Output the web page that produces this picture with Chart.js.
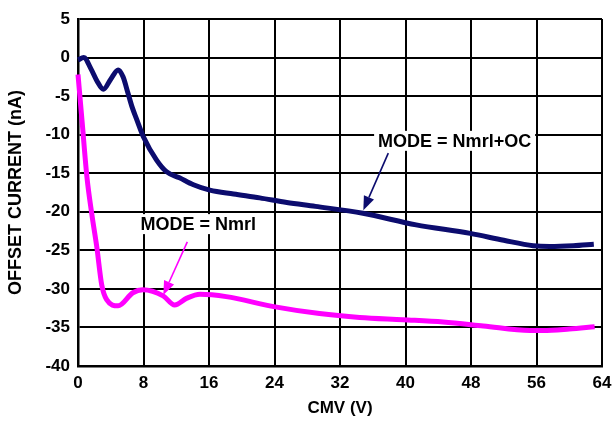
<!DOCTYPE html>
<html>
<head>
<meta charset="utf-8">
<script src="https://cdn.jsdelivr.net/npm/chart.js@4.4.1/dist/chart.umd.min.js"></script>
<style>
  body { margin: 0; background: #fff; }
  #wrap { width: 613px; height: 424px; }
</style>
</head>
<body>
<div id="wrap"><canvas id="myChart" width="613" height="424"></canvas></div>
<script>
"use strict";

// CMV (V) / offset current (nA)
const ocVolts = [0, 0.7, 1.6, 2.3, 3.1, 4.0, 4.9, 5.5, 6.1, 6.6, 7.2, 8.0, 9.6, 10.8, 12.4, 14.1, 16.1, 19, 22.2, 25.5, 29, 34.8, 41.3, 47.9, 52, 55.6, 57.6, 60.5, 63];
const ocCurrent = [-0.3, 0, -1.5, -3.0, -4.1, -2.8, -1.6, -2.5, -4.6, -6.4, -8.1, -10.3, -13.3, -14.8, -15.6, -16.5, -17.2, -17.7, -18.2, -18.8, -19.3, -20.2, -21.7, -22.8, -23.7, -24.4, -24.5, -24.4, -24.2];

const nmVolts = [0, 0.5, 1.1, 1.7, 2.3, 2.9, 3.5, 4.9, 6.7, 7.9, 10.4, 11.8, 13.3, 14.9, 18.1, 23.9, 29.5, 34.4, 39.7, 44.6, 49.5, 55.2, 56.8, 60, 63.1];
const nmCurrent = [-2.2, -8.3, -15.6, -20.4, -24.6, -29.5, -31.4, -32.2, -30.5, -30.1, -30.9, -32.1, -31.2, -30.7, -31.0, -32.3, -33.2, -33.7, -34.0, -34.3, -34.8, -35.4, -35.4, -35.2, -34.9];

const xTicks = [0, 8, 16, 24, 32, 40, 48, 56, 64];
const yTicks = [5, 0, -5, -10, -15, -20, -25, -30, -35, -40];

const NAVY = "#0c0c6e";
const MAGENTA = "#ff00ff";

// labels with arrows, in data units
const notes = [
  { text: "MODE = Nmrl+OC", color: NAVY, at: [46.0, -10.8], from: [37.9, -12.4], to: [34.85, -19.8] },
  { text: "MODE = Nmrl", color: MAGENTA, at: [14.7, -21.6], from: [13.35, -23.9], to: [10.42, -30.8] }
];

function toPoints(xs, ys) {
  return xs.map((x, i) => ({ x: x, y: ys[i] }));
}

const font = { family: "'Liberation Sans', Arial, sans-serif", size: 17, weight: "bold" };

const notePlugin = {
  id: "notes",
  afterDatasetsDraw(chart) {
    const ctx = chart.ctx;
    const xs = chart.scales.x;
    const ys = chart.scales.y;
    ctx.save();
    notes.forEach((n) => {
      // arrow
      const x1 = xs.getPixelForValue(n.from[0]);
      const y1 = ys.getPixelForValue(n.from[1]);
      const x2 = xs.getPixelForValue(n.to[0]);
      const y2 = ys.getPixelForValue(n.to[1]);
      const ang = Math.atan2(y2 - y1, x2 - x1);
      const len = 14, half = 5.5;
      const bx = x2 - len * Math.cos(ang);
      const by = y2 - len * Math.sin(ang);
      ctx.strokeStyle = n.color;
      ctx.fillStyle = n.color;
      ctx.lineWidth = 1.6;
      ctx.beginPath();
      ctx.moveTo(x1, y1);
      ctx.lineTo(bx, by);
      ctx.stroke();
      ctx.beginPath();
      ctx.moveTo(x2, y2);
      ctx.lineTo(bx + half * Math.sin(ang), by - half * Math.cos(ang));
      ctx.lineTo(bx - half * Math.sin(ang), by + half * Math.cos(ang));
      ctx.closePath();
      ctx.fill();

      // text on white box
      const cx = xs.getPixelForValue(n.at[0]);
      const cy = ys.getPixelForValue(n.at[1]);
      ctx.font = "bold 18px 'Liberation Sans', Arial, sans-serif";
      const w = ctx.measureText(n.text).width;
      ctx.fillStyle = "#fff";
      ctx.fillRect(cx - w / 2 - 4, cy - 10, w + 8, 20);
      ctx.fillStyle = "#000";
      ctx.textAlign = "center";
      ctx.textBaseline = "middle";
      ctx.fillText(n.text, cx, cy + 1);
    });
    ctx.restore();
  }
};

const ctx = document.getElementById("myChart").getContext("2d");
const myChart = new Chart(ctx, {
  type: "line",
  data: {
    datasets: [
      {
        label: "MODE = Nmrl+OC",
        data: toPoints(ocVolts, ocCurrent),
        borderColor: NAVY,
        borderWidth: 5,
        pointRadius: 0,
        cubicInterpolationMode: "monotone",
        clip: false,
      },
      {
        label: "MODE = Nmrl",
        data: toPoints(nmVolts, nmCurrent),
        borderColor: MAGENTA,
        borderWidth: 5,
        pointRadius: 0,
        cubicInterpolationMode: "monotone",
        clip: false,
      },
    ],
  },
  options: {
    responsive: false,
    animation: false,
    layout: { padding: { top: 19, right: 11, bottom: 0, left: 0 } },
    plugins: { legend: { display: false }, tooltip: { enabled: false } },
    scales: {
      x: {
        type: "linear",
        min: 0,
        max: 64,
        afterBuildTicks: (s) => { s.ticks = xTicks.map((v) => ({ value: v })); },
        afterFit: (s) => { s.height = 58; s.paddingLeft = 0; s.paddingRight = 0; },
        ticks: { color: "#000", font: font, padding: 7, maxRotation: 0 },
        grid: { color: "#000", lineWidth: 2, drawTicks: false },
        border: { color: "#000", width: 2.5 },
        title: { display: true, text: "CMV (V)", color: "#000", font: font, padding: { top: 0, bottom: 5 } },
      },
      y: {
        type: "linear",
        min: -40,
        max: 5,
        afterBuildTicks: (s) => { s.ticks = yTicks.map((v) => ({ value: v })); },
        afterFit: (s) => { s.width = 78; s.paddingTop = 0; s.paddingBottom = 0; },
        ticks: { color: "#000", font: font, padding: 8 },
        grid: { color: "#000", lineWidth: 2, drawTicks: false },
        border: { color: "#000", width: 2.5 },
        title: { display: true, text: "OFFSET CURRENT (nA)", color: "#000", font: { family: font.family, size: 18, weight: "bold" }, padding: { top: 5, bottom: 0 } },
      },
    },
  },
  plugins: [notePlugin],
});
</script>
</body>
</html>
